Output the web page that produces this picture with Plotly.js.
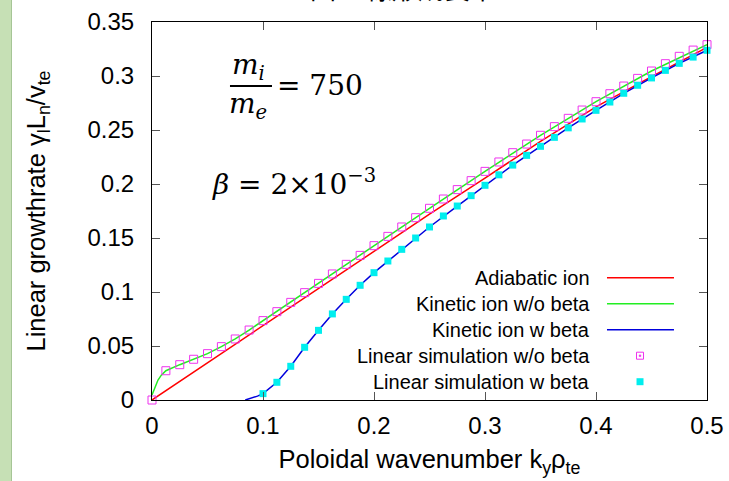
<!DOCTYPE html>
<html>
<head>
<meta charset="utf-8">
<script src="https://cdn.plot.ly/plotly-3.0.1.min.js"></script>
<style>
  html, body { margin: 0; padding: 0; }
  body { width: 729px; height: 481px; overflow: hidden;
         background: linear-gradient(to right, #c6e0b5 0px, #c6e0b5 11px, #a6c596 11px, #a6c596 12px, #ffffff 12px); }
  #chart { width: 729px; height: 481px; }
</style>
</head>
<body>
<div id="chart"></div>
<script>
// ---- data ----
// Linear simulation w/o beta (open magenta squares)
const simNoBetaK = [0, 0.0125, 0.025, 0.0375, 0.05, 0.0625, 0.075, 0.0875, 0.1, 0.1125,
  0.125, 0.1375, 0.15, 0.1625, 0.175, 0.1875, 0.2, 0.2125, 0.225, 0.2375,
  0.25, 0.2625, 0.275, 0.2875, 0.3, 0.3125, 0.325, 0.3375, 0.35, 0.3625,
  0.375, 0.3875, 0.4, 0.4125, 0.425, 0.4375, 0.45, 0.4625, 0.475, 0.4875, 0.5];
const simNoBetaG = [0, 0.0271, 0.0327, 0.0377, 0.0429, 0.0494, 0.0565, 0.0648, 0.0735, 0.0818,
  0.0904, 0.0994, 0.108, 0.1167, 0.1256, 0.1339, 0.1429, 0.1515, 0.1602, 0.1688,
  0.1775, 0.1861, 0.1948, 0.2031, 0.2117, 0.2204, 0.229, 0.237, 0.2451, 0.2531,
  0.2608, 0.2685, 0.2762, 0.2836, 0.2907, 0.2978, 0.3046, 0.3114, 0.3182, 0.324, 0.329];

// Linear simulation w beta (filled cyan squares)
const simBetaK = [0.1, 0.1125, 0.125, 0.1375, 0.15, 0.1625, 0.175, 0.1875, 0.2, 0.2125,
  0.225, 0.2375, 0.25, 0.2625, 0.275, 0.2875, 0.3, 0.3125, 0.325, 0.3375,
  0.35, 0.3625, 0.375, 0.3875, 0.4, 0.4125, 0.425, 0.4375, 0.45, 0.4625,
  0.475, 0.4875, 0.5];
const simBetaG = [0.0059, 0.0164, 0.0312, 0.0488, 0.0645, 0.0797, 0.0932, 0.1062, 0.1179, 0.1287,
  0.1395, 0.150, 0.1602, 0.1704, 0.1796, 0.1892, 0.1988, 0.2085, 0.2175, 0.2265,
  0.2349, 0.2432, 0.252, 0.2602, 0.2682, 0.2759, 0.284, 0.2914, 0.2982, 0.3052,
  0.3117, 0.3175, 0.3238];

// Adiabatic ion (red line)
const adiabaticK = [0, 0.05, 0.1, 0.15, 0.2, 0.25, 0.3, 0.35, 0.4, 0.45, 0.5];
const adiabaticG = [0, 0.0345, 0.069, 0.1034, 0.138, 0.172, 0.2055, 0.2395, 0.2715, 0.2995, 0.3265];

// Kinetic ion w/o beta (green line)
const kinNoBetaK = [0, 0.0027, 0.0054, 0.0084, 0.0125, 0.025, 0.0375, 0.05, 0.0625, 0.075,
  0.0875, 0.1, 0.125, 0.15, 0.2, 0.25, 0.3, 0.35, 0.4, 0.45, 0.5];
const kinNoBetaG = [0.0046, 0.0123, 0.0185, 0.023, 0.0271, 0.0327, 0.0377, 0.0429, 0.0494, 0.0565,
  0.0648, 0.0735, 0.0904, 0.108, 0.1429, 0.1775, 0.2117, 0.2451, 0.2762, 0.3046, 0.329];

// Kinetic ion w beta (blue line)
const kinBetaK = [0.084, 0.09, 0.095, 0.1, 0.1125, 0.125, 0.1375, 0.15, 0.1625, 0.175, 0.1875,
  0.2, 0.225, 0.25, 0.275, 0.3, 0.325, 0.35, 0.375, 0.4, 0.425, 0.45, 0.475, 0.5];
const kinBetaG = [0, 0.0018, 0.0036, 0.0059, 0.0164, 0.0312, 0.0488, 0.0645, 0.0797, 0.0932, 0.1062,
  0.1179, 0.1395, 0.1602, 0.1796, 0.1988, 0.2175, 0.2349, 0.252, 0.2682, 0.284, 0.2982, 0.3117, 0.3238];

const seriesNames = ["Adiabatic ion", "Kinetic ion w/o beta", "Kinetic ion w beta",
  "Linear simulation w/o beta", "Linear simulation w beta"];

const xTickVals = [0, 0.1, 0.2, 0.3, 0.4, 0.5];
const xTickText = ["0", "0.1", "0.2", "0.3", "0.4", "0.5"];
const yTickVals = [0, 0.05, 0.1, 0.15, 0.2, 0.25, 0.3, 0.35];
const yTickText = ["0", "0.05", "0.1", "0.15", "0.2", "0.25", "0.3", "0.35"];

// ---- styles ----
const C_RED = "#ff0000", C_GREEN = "#22ee22", C_BLUE = "#0000dd", C_MAG = "#ee33ee", C_CYAN = "#00eeee";
const SANS = "Liberation Sans, Arial, sans-serif";
const SERIF = "DejaVu Serif, serif";

const traces = [
  { x: adiabaticK, y: adiabaticG, mode: "lines", name: seriesNames[0],
    line: { color: C_RED, width: 1.5 } },
  { x: kinNoBetaK, y: kinNoBetaG, mode: "lines", name: seriesNames[1],
    line: { color: C_GREEN, width: 1.5 } },
  { x: kinBetaK, y: kinBetaG, mode: "lines", name: seriesNames[2],
    line: { color: C_BLUE, width: 1.5 } },
  { x: simNoBetaK, y: simNoBetaG, mode: "markers", name: seriesNames[3], cliponaxis: false,
    marker: { symbol: "square-open", size: 8, color: C_MAG, line: { color: C_MAG, width: 1 } } },
  { x: simBetaK, y: simBetaG, mode: "markers", name: seriesNames[4], cliponaxis: false,
    marker: { symbol: "square", size: 7, color: C_CYAN, line: { width: 0 } } }
];

// legend (gnuplot style: right-aligned text, sample to the right)
const legRowY = [0.3235, 0.2548, 0.186, 0.1172, 0.0484];
const legTextX = 0.792, legLineX0 = 0.8198, legLineX1 = 0.9405, legMarkX = 0.8793;
const annotations = [];
const shapes = [];
seriesNames.forEach((n, i) => {
  annotations.push({ xref: "paper", yref: "paper", x: legTextX, y: legRowY[i],
    xanchor: "right", yanchor: "middle", showarrow: false, text: n,
    font: { family: SANS, size: 20, color: "#000" } });
});
[C_RED, C_GREEN, C_BLUE].forEach((c, i) => {
  shapes.push({ type: "line", xref: "paper", yref: "paper", x0: legLineX0, x1: legLineX1,
    y0: legRowY[i], y1: legRowY[i], line: { color: c, width: 1.5 } });
});
shapes.push({ type: "rect", xref: "paper", yref: "paper", xsizemode: "pixel", ysizemode: "pixel",
  xanchor: legMarkX, yanchor: legRowY[3], x0: -3.5, x1: 3.5, y0: -3.5, y1: 3.5,
  line: { color: C_MAG, width: 1 }, fillcolor: "rgba(0,0,0,0)" });
shapes.push({ type: "rect", xref: "paper", yref: "paper", xsizemode: "pixel", ysizemode: "pixel",
  xanchor: legMarkX, yanchor: legRowY[3], x0: -0.7, x1: 0.7, y0: -0.7, y1: 0.7,
  line: { color: C_MAG, width: 0.8 }, fillcolor: C_MAG });
shapes.push({ type: "rect", xref: "paper", yref: "paper", xsizemode: "pixel", ysizemode: "pixel",
  xanchor: legMarkX, yanchor: legRowY[4], x0: -3.5, x1: 3.5, y0: -3.5, y1: 3.5,
  line: { width: 0 }, fillcolor: C_CYAN });

// math labels
annotations.push({ xref: "paper", yref: "paper", x: 0.173, y: 0.881, xanchor: "center", yanchor: "middle",
  showarrow: false, text: "<i>m</i><sub><i>i</i></sub>", font: { family: SERIF, size: 28, color: "#000" } });
annotations.push({ xref: "paper", yref: "paper", x: 0.173, y: 0.78, xanchor: "center", yanchor: "middle",
  showarrow: false, text: "<i>m</i><sub><i>e</i></sub>", font: { family: SERIF, size: 28, color: "#000" } });
shapes.push({ type: "line", xref: "paper", yref: "paper", x0: 0.1405, x1: 0.2162, y0: 0.8307, y1: 0.8307,
  line: { color: "#000", width: 2 } });
annotations.push({ xref: "paper", yref: "paper", x: 0.222, y: 0.8333, xanchor: "left", yanchor: "middle",
  showarrow: false, text: "= 750", font: { family: SERIF, size: 28, color: "#000" } });
annotations.push({ xref: "paper", yref: "paper", x: 0.105, y: 0.575, xanchor: "left", yanchor: "middle",
  showarrow: false, text: "<i>β</i> = 2×10<sup>−3</sup>", font: { family: SERIF, size: 28, color: "#000" } });

// clipped heading at the very top (cut off by the page edge, as in the reference)
annotations.push({ xref: "paper", yref: "paper", x: 0.452, y: 1.037, xanchor: "center", yanchor: "bottom",
  showarrow: false, text: "図<b>1:</b> 線形成長率",
  font: { family: "Noto Sans CJK JP, sans-serif", size: 26, color: "#000" } });

const axisCommon = {
  showline: true, linecolor: "#000", linewidth: 1, mirror: "ticks",
  ticks: "inside", ticklen: 8, tickwidth: 1, tickcolor: "#555",
  showgrid: false, zeroline: false,
  tickfont: { family: SANS, size: 24, color: "#000" }
};

const layout = {
  width: 729, height: 481,
  margin: { l: 152, r: 22, t: 22, b: 81, pad: 0 },
  paper_bgcolor: "rgba(0,0,0,0)", plot_bgcolor: "#ffffff",
  showlegend: false,
  xaxis: Object.assign({}, axisCommon, {
    range: [0, 0.5], tickmode: "array", tickvals: xTickVals, ticktext: xTickText,
    ticklabelstandoff: 4,
    title: { text: "Poloidal wavenumber k<sub>y</sub>ρ<sub>te</sub>", standoff: 12,
      font: { family: SANS, size: 25.5, color: "#000" } }
  }),
  yaxis: Object.assign({}, axisCommon, {
    range: [0, 0.35], tickmode: "array", tickvals: yTickVals, ticktext: yTickText,
    ticklabelstandoff: 12,
    title: { text: "Linear growthrate γ<sub>l</sub>L<sub>n</sub>/v<sub>te</sub>", standoff: 34,
      font: { family: SANS, size: 25.5, color: "#000" } }
  }),
  annotations: annotations,
  shapes: shapes
};

Plotly.newPlot("chart", traces, layout, { staticPlot: true, displayModeBar: false });
</script>
</body>
</html>
